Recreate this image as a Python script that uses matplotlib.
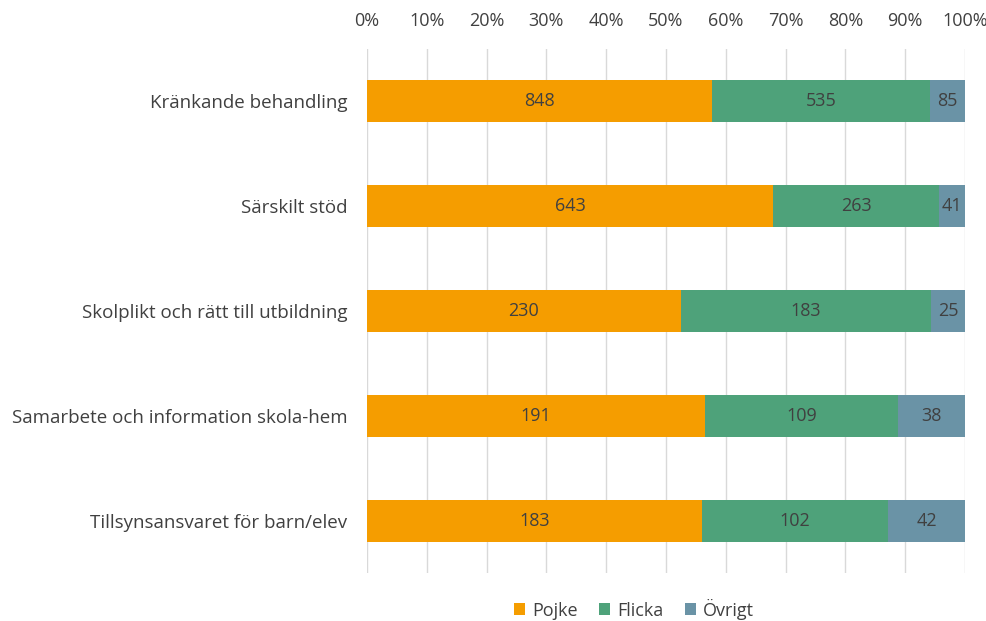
import matplotlib
matplotlib.use("Agg")
import matplotlib.pyplot as plt
import numpy as np

categories = [
    "Kränkande behandling",
    "Särskilt stöd",
    "Skolplikt och rätt till utbildning",
    "Samarbete och information skola-hem",
    "Tillsynsansvaret för barn/elev",
]
pojke = [848, 643, 230, 191, 183]
flicka = [535, 263, 183, 109, 102]
ovrigt = [85, 41, 25, 38, 42]

series = [("Pojke", pojke, "#F59D00"), ("Flicka", flicka, "#4EA27A"), ("Övrigt", ovrigt, "#6A93A6")]
text_col = "#404040"
plt.rcParams["font.family"] = ["Open Sans", "DejaVu Sans"]

totals = np.array(pojke) + np.array(flicka) + np.array(ovrigt)
y = np.arange(len(categories))

fig = plt.figure(figsize=(9.87, 6.21), dpi=100)
ax = fig.add_axes([0.3718, 0.0765, 0.6059, 0.8454])

left = np.zeros(len(categories))
for name, vals, col in series:
    share = np.array(vals) / totals * 100
    ax.barh(y, share, left=left, height=0.4, color=col, label=name, zorder=3)
    for yi, l, s, v in zip(y, left, share, vals):
        ax.text(l + s / 2, yi, str(v), ha="center", va="center", fontsize=13, color=text_col, zorder=4)
    left += share

ax.set_xlim(0, 100)
ax.set_ylim(len(categories) - 0.5, -0.5)
ax.set_yticks(y)
ax.set_yticklabels(categories, fontsize=13.5, color=text_col)
ax.set_xticks(np.arange(0, 101, 10))
ax.set_xticklabels([f"{t}%" for t in range(0, 101, 10)], fontsize=13, color=text_col)
ax.xaxis.tick_top()
ax.tick_params(axis="y", length=0, pad=14)
ax.tick_params(axis="x", length=0, pad=13)
ax.grid(axis="x", color="#D9D9D9", lw=1, zorder=0)
for s in ax.spines.values():
    s.set_visible(False)

ax.legend(loc="center", bbox_to_anchor=(634 / 987, 1 - 609 / 621), bbox_transform=fig.transFigure,
          ncol=3, frameon=False, fontsize=13, handlelength=0.6, handleheight=0.6,
          handletextpad=0.4, columnspacing=1.2, labelcolor=text_col)

fig.savefig("out.png", dpi=100)
